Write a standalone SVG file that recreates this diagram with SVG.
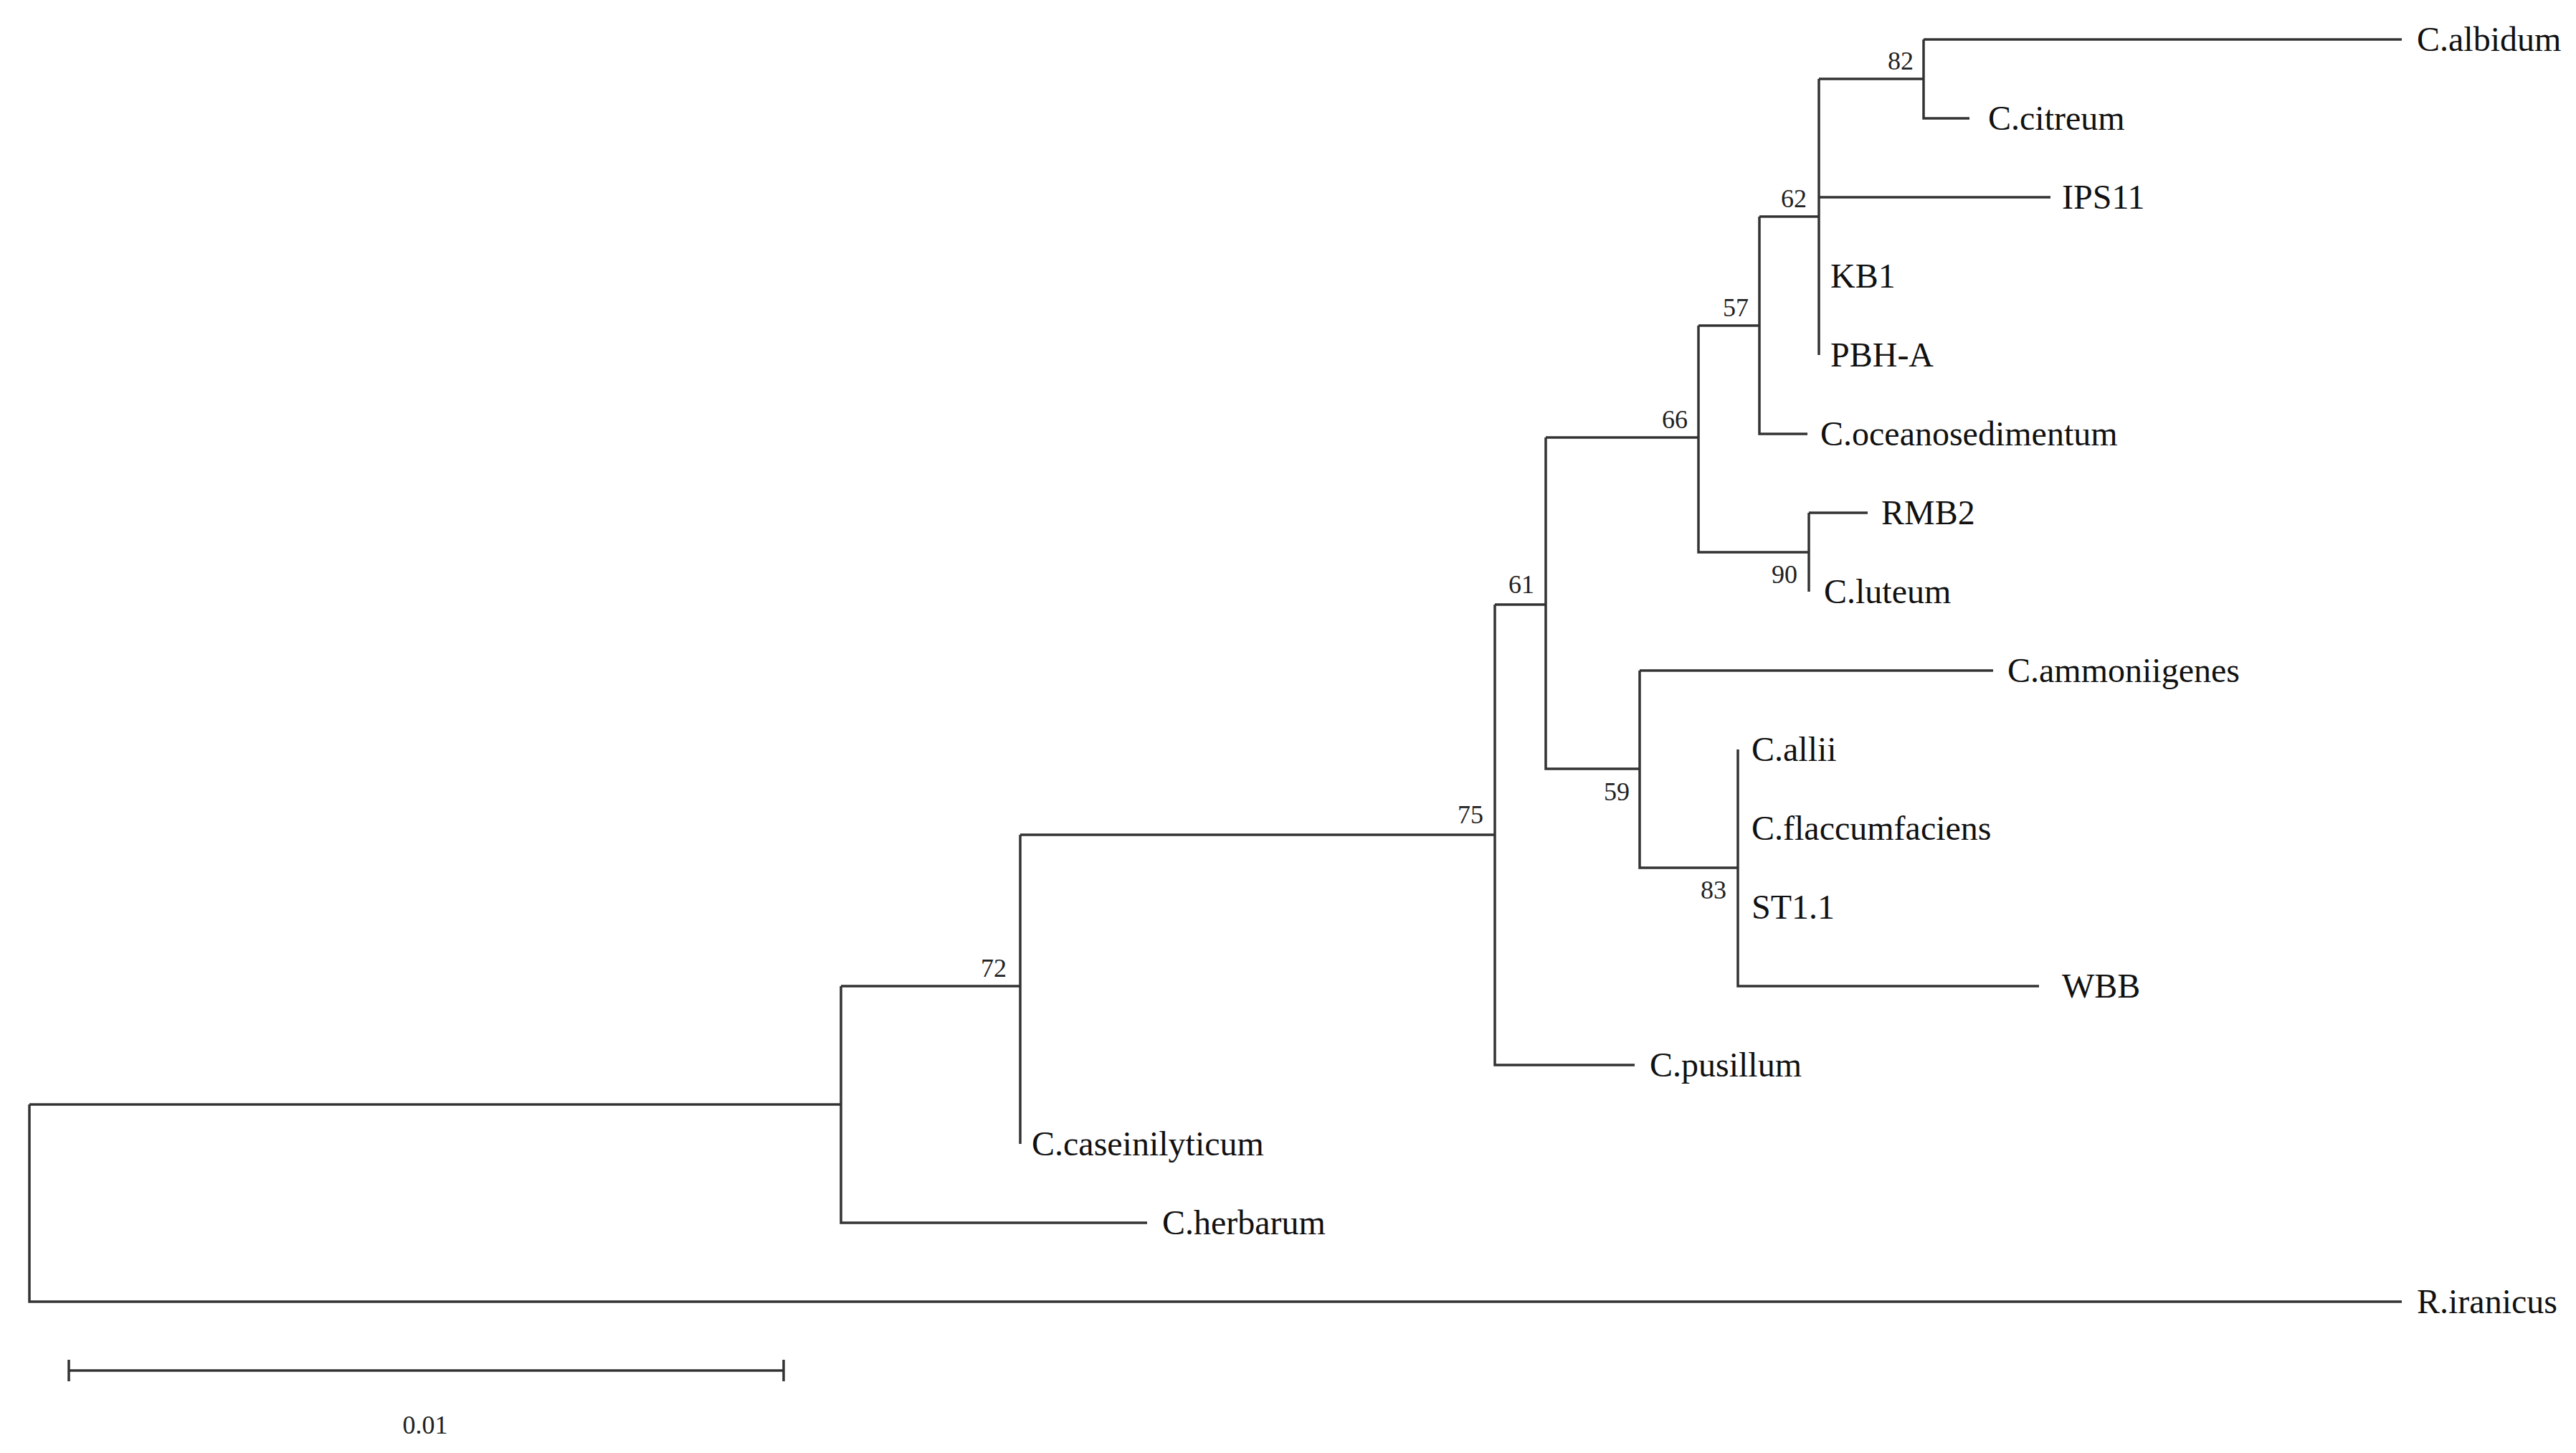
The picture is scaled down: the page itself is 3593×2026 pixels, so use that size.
<svg xmlns="http://www.w3.org/2000/svg" width="3593" height="2026" viewBox="0 0 3593 2026">
<style>
.e{stroke:#333;stroke-width:3.5;fill:none}
.t{font-family:"Liberation Serif",serif;font-size:48px;fill:#111}
.b{font-family:"Liberation Serif",serif;font-size:36px;fill:#222;text-anchor:middle}
</style>
<rect width="3593" height="2026" fill="#fff"/>
<g id="connectors" class="e">
<path d="M41,1540V1815H3350M41,1540H1173"/>
<path d="M1173,1375V1705H1600M1173,1375H1423"/>
<path d="M1423,1164V1595M1423,1164H2085"/>
<path d="M2085,843V1485H2280M2085,843H2156"/>
<path d="M2156,610V1072H2287M2156,610H2369"/>
<path d="M2369,454V770H2523M2369,454H2454"/>
<path d="M2454,302V605H2521M2454,302H2537"/>
<path d="M2537,110V495M2537,275H2860M2537,110H2683"/>
<path d="M2683,55V165H2747M2683,55H3350"/>
<path d="M2523,715V825M2523,715H2605"/>
<path d="M2287,935V1210H2424M2287,935H2780"/>
<path d="M2424,1045V1375H2844"/>
<path d="M96,1911H1093M96,1896V1926M1093,1896V1926"/>
</g>
<g id="leaves" class="t">
<text x="3371" y="71">C.albidum</text>
<text x="2773" y="181">C.citreum</text>
<text x="2876" y="291">IPS11</text>
<text x="2553" y="401">KB1</text>
<text x="2553" y="511">PBH-A</text>
<text x="2539" y="621">C.oceanosedimentum</text>
<text x="2624" y="731">RMB2</text>
<text x="2544" y="841">C.luteum</text>
<text x="2800" y="951">C.ammoniigenes</text>
<text x="2443" y="1061">C.allii</text>
<text x="2443" y="1171">C.flaccumfaciens</text>
<text x="2443" y="1281">ST1.1</text>
<text x="2876" y="1391">WBB</text>
<text x="2301" y="1501">C.pusillum</text>
<text x="1439" y="1611">C.caseinilyticum</text>
<text x="1621" y="1721">C.herbarum</text>
<text x="3371" y="1831">R.iranicus</text>
</g>
<g id="bootstrap" class="b">
<text x="2651" y="97">82</text>
<text x="2502" y="289">62</text>
<text x="2421" y="441">57</text>
<text x="2336" y="597">66</text>
<text x="2122" y="827">61</text>
<text x="2051" y="1148">75</text>
<text x="1386" y="1362">72</text>
<text x="2489" y="813">90</text>
<text x="2255" y="1116">59</text>
<text x="2390" y="1253">83</text>
<text x="593" y="1999">0.01</text>
</g>
</svg>
